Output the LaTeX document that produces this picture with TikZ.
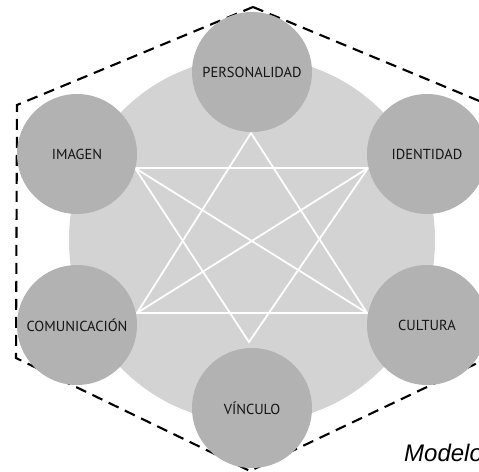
\documentclass[tikz,border=0pt]{standalone}
\usepackage{fontspec}
\setmainfont{PT Sans}
\newfontfamily\captionfont{Liberation Sans}
\definecolor{bigfill}{RGB}{211,211,211}
\definecolor{smallfill}{RGB}{178,178,178}
\definecolor{labeltext}{RGB}{20,20,20}
\tikzset{
  item/.style={circle, fill=smallfill, draw=none, minimum size=120pt, inner sep=0pt,
    text=labeltext, font=\fontsize{14.5}{16}\selectfont},
  starline/.style={draw=white, line width=1.8pt, line join=miter},
  hexline/.style={draw=black, line width=2.1pt, dash pattern=on 11pt off 7pt},
}
\begin{document}
\begin{tikzpicture}[x=1pt,y=-1pt]
\useasboundingbox (0,0) rectangle (479,471);
\clip (0,0) rectangle (479,471);
\fill[white] (0,0) rectangle (479,471);
% big background circle
\node[circle, fill=bigfill, minimum size=366pt, inner sep=0pt] (big) at (252,240) {};
% star coordinates
\coordinate (a1) at (251,133);
\coordinate (a2) at (367,313);
\coordinate (a3) at (137,313);
\coordinate (b1) at (135,168);
\coordinate (b2) at (368,168);
\coordinate (b3) at (249,342);
\draw[starline] (a1) -- (a2) -- (a3) -- cycle;
\draw[starline] (b1) -- (b2) -- (b3) -- cycle;
\draw[starline] (b1) -- (a2);
\draw[starline] (b2) -- (a3);
% dashed hexagon
\coordinate (h1) at (253,7);
\coordinate (h2) at (489,105);
\coordinate (h3) at (488,358);
\coordinate (h4) at (250,471);
\coordinate (h5) at (16,358);
\coordinate (h6) at (17,105);
\draw[hexline] (h1) -- (h2) -- (h3) -- (h4) -- (h5) -- (h6) -- cycle;
% item circles
\node[item] (pers) at (252,72) {PERSONALIDAD};
\node[item] (imag) at (77,154) {IMAGEN};
\node[item] (iden) at (427,154) {IDENTIDAD};
\node[item] (comu) at (77,325) {COMUNICACIÓN};
\node[item] (cult) at (427,325) {CULTURA};
\node[item] (vinc) at (252,408) {VÍNCULO};
% caption
\node[anchor=base west, inner sep=0pt, font=\captionfont\itshape\fontsize{24}{27}\selectfont] (cap) at (404,461) {Modelo};
\end{tikzpicture}
\end{document}
